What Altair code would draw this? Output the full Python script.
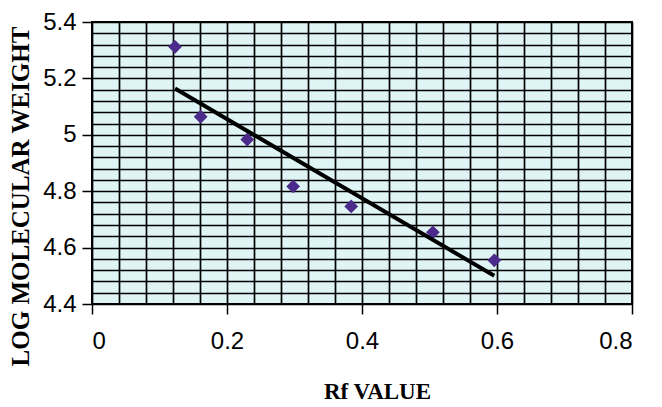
import altair as alt
import pandas as pd

# Data
rf_value = [0.123, 0.161, 0.230, 0.298, 0.384, 0.505, 0.596]
log_mw = [5.312, 5.064, 4.983, 4.817, 4.746, 4.654, 4.555]

# Tick / grid values
x_major = [0, 0.2, 0.4, 0.6, 0.8]
y_major = [4.4, 4.6, 4.8, 5.0, 5.2, 5.4]
x_minor = [0, 0.04, 0.08, 0.12, 0.16, 0.2, 0.24, 0.28, 0.32, 0.36, 0.4,
           0.44, 0.48, 0.52, 0.56, 0.6, 0.64, 0.68, 0.72, 0.76, 0.8]
y_minor = [4.4, 4.44, 4.48, 4.52, 4.56, 4.6, 4.64, 4.68, 4.72, 4.76, 4.8,
           4.84, 4.88, 4.92, 4.96, 5.0, 5.04, 5.08, 5.12, 5.16, 5.2,
           5.24, 5.28, 5.32, 5.36, 5.4]

df = pd.DataFrame({"rf": rf_value, "logmw": log_mw})

xs = alt.Scale(domain=[0, 0.8], nice=False, zero=False)
ys = alt.Scale(domain=[4.4, 5.4], nice=False, zero=False)

grid_common = dict(grid=True, labels=False, ticks=False, domain=False, title=None,
                   gridColor="#000000", gridWidth=1.7, gridOpacity=1)

points = alt.Chart(df).mark_point(
    shape="diamond", filled=True, size=190, color="#4b2a8c", opacity=1
).encode(
    x=alt.X("rf:Q", scale=xs, axis=alt.Axis(values=x_minor, orient="bottom", **grid_common)),
    y=alt.Y("logmw:Q", scale=ys, axis=alt.Axis(values=y_minor, orient="left", **grid_common)),
)

trend = alt.Chart(df).transform_regression("rf", "logmw").mark_line(
    color="#000000", strokeWidth=4
).encode(
    x=alt.X("rf:Q", scale=xs, axis=alt.Axis(
        values=x_major, orient="bottom", grid=False, format="~g",
        domain=False, ticks=True, tickSize=10, tickColor="#000000", tickWidth=1.5,
        labelFont="Liberation Sans", labelFontSize=24, labelColor="#000000",
        labelPadding=15,
        title="Rf VALUE", titleFont="Liberation Serif", titleFontWeight="bold",
        titleFontSize=23, titleColor="#000000", titleX=285, titleY=87,
        titleBaseline="middle", titleAlign="center")),
    y=alt.Y("logmw:Q", scale=ys, axis=alt.Axis(
        values=y_major, orient="left", grid=False, format="~g",
        domain=False, ticks=True, tickSize=10, tickColor="#000000", tickWidth=1.5,
        labelFont="Liberation Sans", labelFontSize=24, labelColor="#000000",
        labelPadding=6,
        title="LOG MOLECULAR WEIGHT", titleFont="Liberation Serif", titleFontWeight="bold",
        titleFontSize=25, titleColor="#000000", titleX=-72, titleY=174,
        titleAngle=-90, titleBaseline="middle", titleAlign="center")),
)

chart = alt.layer(points, trend).resolve_axis(
    x="independent", y="independent"
).properties(
    width=540, height=282,
    autosize=alt.AutoSizeParams(type="none"),
    padding={"left": 84, "top": 14, "right": 22, "bottom": 99},
    background="#ffffff",
).configure_view(
    fill="#dff5f5", stroke="#000000", strokeWidth=2
)

chart.save("out.html", embed_options={"renderer": "svg", "actions": False})
